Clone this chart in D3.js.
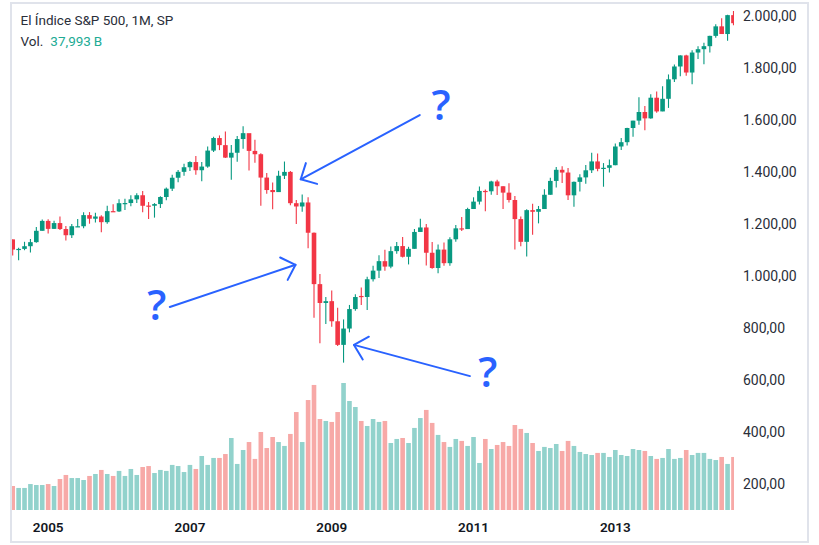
<!DOCTYPE html>
<html><head><meta charset="utf-8">
<script src="https://cdn.jsdelivr.net/npm/d3@7"></script>
<style>
html,body{margin:0;padding:0;background:#fff;}
svg{display:block;font-family:Roboto,"Noto Sans",sans-serif;}
</style></head><body>
<svg id="chart" width="819" height="545"></svg>
<script>
// ---------------- DATA ----------------
const months = [
"2004-07","2004-08","2004-09","2004-10","2004-11","2004-12",
"2005-01","2005-02","2005-03","2005-04","2005-05","2005-06","2005-07","2005-08","2005-09","2005-10","2005-11","2005-12",
"2006-01","2006-02","2006-03","2006-04","2006-05","2006-06","2006-07","2006-08","2006-09","2006-10","2006-11","2006-12",
"2007-01","2007-02","2007-03","2007-04","2007-05","2007-06","2007-07","2007-08","2007-09","2007-10","2007-11","2007-12",
"2008-01","2008-02","2008-03","2008-04","2008-05","2008-06","2008-07","2008-08","2008-09","2008-10","2008-11","2008-12",
"2009-01","2009-02","2009-03","2009-04","2009-05","2009-06","2009-07","2009-08","2009-09","2009-10","2009-11","2009-12",
"2010-01","2010-02","2010-03","2010-04","2010-05","2010-06","2010-07","2010-08","2010-09","2010-10","2010-11","2010-12",
"2011-01","2011-02","2011-03","2011-04","2011-05","2011-06","2011-07","2011-08","2011-09","2011-10","2011-11","2011-12",
"2012-01","2012-02","2012-03","2012-04","2012-05","2012-06","2012-07","2012-08","2012-09","2012-10","2012-11","2012-12",
"2013-01","2013-02","2013-03","2013-04","2013-05","2013-06","2013-07","2013-08","2013-09","2013-10","2013-11","2013-12",
"2014-01","2014-02","2014-03","2014-04","2014-05","2014-06","2014-07","2014-08","2014-09"];

const opens = [
1140.84,1101.72,1104.24,1114.58,1130.20,1173.82,
1211.92,1181.27,1203.60,1180.59,1156.85,1191.00,1191.33,1234.18,1220.33,1228.81,1207.01,1249.48,
1248.29,1280.08,1280.66,1294.83,1310.61,1270.90,1270.20,1276.66,1303.82,1335.85,1377.94,1400.63,
1418.30,1438.24,1406.82,1420.86,1482.37,1530.62,1503.35,1455.27,1473.99,1526.75,1549.38,1481.14,
1468.36,1378.55,1330.63,1322.70,1385.59,1400.38,1280.00,1267.38,1282.83,1166.36,968.75,896.24,
903.25,825.88,735.09,797.87,872.81,923.26,919.32,987.48,1020.62,1057.08,1036.19,1095.63,
1115.10,1073.87,1104.49,1169.43,1186.69,1089.41,1030.71,1101.60,1049.33,1141.20,1183.26,1180.55,
1257.64,1286.12,1327.22,1325.83,1363.61,1345.20,1320.64,1292.28,1218.89,1131.42,1253.30,1246.96,
1257.60,1312.41,1365.68,1408.47,1397.91,1310.33,1362.16,1379.32,1406.58,1440.67,1412.16,1416.18,
1426.19,1498.11,1514.68,1569.19,1597.57,1630.74,1606.28,1685.73,1632.97,1681.55,1756.54,1805.81,
1848.36,1782.59,1859.45,1872.34,1883.95,1923.57,1960.23,1930.67,2003.37];

const highs = [
1140.84,1108.60,1131.54,1142.05,1188.46,1217.33,
1217.80,1212.44,1229.11,1191.88,1199.56,1219.59,1245.15,1245.86,1243.13,1233.34,1270.64,1275.80,
1294.90,1297.57,1310.88,1318.16,1326.70,1284.89,1280.42,1306.74,1340.28,1389.45,1407.89,1431.81,
1441.61,1461.57,1438.89,1498.02,1535.56,1540.56,1555.90,1503.89,1538.74,1576.09,1545.79,1523.57,
1471.77,1396.02,1359.68,1404.57,1440.24,1404.05,1292.17,1313.15,1303.04,1167.03,1007.51,918.85,
943.85,877.86,832.98,888.70,930.17,956.23,996.68,1039.47,1080.15,1101.36,1113.69,1130.38,
1150.45,1112.42,1180.69,1219.80,1200.26,1131.23,1120.95,1129.24,1148.90,1196.14,1227.08,1262.60,
1302.67,1344.07,1332.28,1366.34,1370.58,1345.20,1356.48,1307.38,1229.29,1256.55,1277.55,1269.37,
1333.47,1378.04,1419.15,1422.38,1415.32,1363.46,1391.74,1426.68,1474.51,1470.96,1434.27,1448.00,
1509.94,1530.94,1570.28,1597.57,1687.18,1654.19,1698.78,1709.67,1729.86,1775.22,1813.55,1849.44,
1850.84,1867.92,1883.97,1897.28,1924.03,1968.17,1991.39,2005.04,2019.26];

const lows = [
1078.78,1060.72,1099.18,1090.19,1127.60,1173.76,
1163.75,1180.95,1176.92,1136.15,1146.18,1188.30,1183.55,1201.07,1205.35,1168.20,1201.07,1246.59,
1245.74,1253.61,1268.42,1280.74,1245.34,1219.29,1224.54,1261.30,1290.93,1327.10,1360.98,1385.93,
1403.97,1389.42,1363.98,1416.37,1476.70,1484.18,1454.25,1370.60,1439.29,1489.56,1406.10,1435.65,
1270.05,1316.75,1256.98,1324.35,1373.07,1272.00,1200.44,1247.45,1106.42,839.80,741.02,815.69,
804.47,730.33,666.79,783.32,866.10,888.86,869.32,978.51,991.97,1020.18,1029.38,1085.89,
1071.59,1044.50,1105.24,1170.69,1040.78,1028.33,1010.91,1039.70,1039.70,1131.87,1173.00,1186.60,
1257.62,1275.10,1249.05,1312.47,1311.80,1258.07,1282.86,1101.54,1114.22,1074.77,1158.66,1202.37,
1258.86,1312.41,1340.03,1357.38,1291.98,1266.74,1325.41,1354.65,1396.56,1403.28,1343.35,1398.11,
1426.19,1485.01,1501.48,1536.03,1581.28,1560.33,1604.57,1627.47,1633.41,1646.47,1746.20,1767.99,
1770.45,1737.92,1834.44,1814.36,1859.79,1915.98,1930.67,1904.78,1964.04];

const closes = [
1101.72,1104.24,1114.58,1130.20,1173.82,1211.92,
1181.27,1203.60,1180.59,1156.85,1191.50,1191.33,1234.18,1220.33,1228.81,1207.01,1249.48,1248.29,
1280.08,1280.66,1294.83,1310.61,1270.09,1270.20,1276.66,1303.82,1335.85,1377.94,1400.63,1418.30,
1438.24,1406.82,1420.86,1482.37,1530.62,1503.35,1455.27,1473.99,1526.75,1549.38,1481.14,1468.36,
1378.55,1330.63,1322.70,1385.59,1400.38,1280.00,1267.38,1282.83,1166.36,968.75,896.24,903.25,
825.88,735.09,797.87,872.81,919.14,919.32,987.48,1020.62,1057.08,1036.19,1095.63,1115.10,
1073.87,1104.49,1169.43,1186.69,1089.41,1030.71,1101.60,1049.33,1141.20,1183.26,1180.55,1257.64,
1286.12,1327.22,1325.83,1363.61,1345.20,1320.64,1292.28,1218.89,1131.42,1253.30,1246.96,1257.60,
1312.41,1365.68,1408.47,1397.91,1310.33,1362.16,1379.32,1406.58,1440.67,1412.16,1416.18,1426.19,
1498.11,1514.68,1569.19,1597.57,1630.74,1606.28,1685.73,1632.97,1681.55,1756.54,1805.81,1848.36,
1782.59,1859.45,1872.34,1883.95,1923.57,1960.23,1930.67,2003.37,1972.29];

// monthly volume, billions
const volumes = [
17.2,15.8,15.8,18.6,17.9,17.9,
18.6,17.2,22.2,25.1,22.9,22.9,21.5,24.4,25.8,28.7,25.8,24.4,
28.0,24.4,29.4,25.1,30.8,31.5,26.5,28.7,28.0,32.3,31.5,27.2,
32.3,29.4,38.7,32.3,37.3,37.3,40.1,51.6,33.0,43.0,48.7,36.6,
55.9,44.4,52.3,48.7,45.9,54.5,70.2,48.7,78.8,89.6,65.2,63.8,
63.1,70.2,91.0,78.1,73.8,63.8,60.2,65.2,63.1,63.8,48.0,50.9,
51.6,48.0,58.8,65.9,71.7,62.4,53.8,48.7,45.2,50.9,49.5,45.9,
52.3,33.7,50.9,43.7,46.6,48.7,45.9,60.9,58.1,55.2,48.0,42.3,
45.2,44.4,47.3,42.3,49.5,45.9,41.6,40.1,39.4,40.9,40.9,38.0,
43.0,39.4,38.7,43.7,43.0,42.3,38.7,36.6,37.3,43.7,36.6,37.3,
43.0,39.4,40.9,40.9,36.6,35.8,38.0,33.0,37.993];

const yearTicks  = ["2005-01","2007-01","2009-01","2011-01","2013-01"];
const yearLabels = ["2005","2007","2009","2011","2013"];
const priceTicks = [200,400,600,800,1000,1200,1400,1600,1800,2000];
const titleText = "El Índice S&P 500, 1M, SP";
const volText = "Vol.";
const volValueText = "37,993\u2009B";

// annotations in data space: [month index, price]
const arrowTails = [[68.9,1619],[26.6,881],[77.4,615]];
const arrowTips  = [[48.75,1372],[47.87,1043],[57.77,735]];
const qMarks     = [[72.5,1662],[24.4,896],[80.4,638]];

// ---------------- LAYOUT ----------------
const W = 819, H = 545;
const plotL = 12, plotR = 734, plotT = 3, volBase = 510;
const step = 5.908, firstCenter = 12.7;
const svg = d3.select("#chart");

const x = d3.scaleBand().domain(months)
  .range([firstCenter - step/2, firstCenter - step/2 + step*months.length])
  .paddingInner(0.22).paddingOuter(0.11);
const xi = d3.scaleLinear().domain([0, months.length-1])
  .range([x(months[0]) + x.bandwidth()/2, x(months[months.length-1]) + x.bandwidth()/2]);
const y = d3.scaleLinear().domain([200, 2000]).range([484, 16]);
const yv = d3.scaleLinear().domain([0, 91]).range([volBase, 383]);

const fmt = d3.formatLocale({decimal:",", thousands:".", grouping:[3], currency:["",""]}).format(",.2f");

const up = "#089981", dn = "#f23645";
const volUp = "#92d2cc", volDn = "#f7a9a7";

svg.append("rect").attr("width",W).attr("height",H).attr("fill","#fff");

svg.append("defs").append("clipPath").attr("id","clip")
  .append("rect").attr("x",plotL).attr("y",plotT).attr("width",plotR-plotL).attr("height",volBase-plotT+1);

const data = months.map((m,i)=>({m, o:opens[i], h:highs[i], l:lows[i], c:closes[i], v:volumes[i]}));

const plot = svg.append("g").attr("clip-path","url(#clip)");

// volume
plot.append("g").selectAll("rect").data(data).join("rect")
  .attr("x", d=>x(d.m)).attr("width", x.bandwidth())
  .attr("y", d=>yv(d.v)).attr("height", d=>volBase - yv(d.v))
  .attr("fill", d=> d.c>=d.o ? volUp : volDn);

// wicks
plot.append("g").selectAll("line").data(data).join("line")
  .attr("x1", d=>x(d.m)+x.bandwidth()/2).attr("x2", d=>x(d.m)+x.bandwidth()/2)
  .attr("y1", d=>y(d.h)).attr("y2", d=>y(d.l))
  .attr("stroke", d=> d.c>=d.o ? up : dn).attr("stroke-width",1.1);

// bodies
plot.append("g").selectAll("rect").data(data).join("rect")
  .attr("x", d=>x(d.m)).attr("width", x.bandwidth())
  .attr("y", d=>y(Math.max(d.o,d.c)))
  .attr("height", d=>Math.max(1.2, Math.abs(y(d.o)-y(d.c))))
  .attr("fill", d=> d.c>=d.o ? up : dn);

// price axis
const ya = svg.append("g").attr("transform","translate(743,0)")
  .call(d3.axisRight(y).tickValues(priceTicks).tickSize(0).tickPadding(0).tickFormat(fmt));
ya.select(".domain").remove();
ya.selectAll("text").attr("font-size",14).attr("fill","#2a2e39")
  .attr("font-family","Roboto,sans-serif").attr("text-anchor","start");

// time axis
const xa = svg.append("g").attr("transform","translate(0,527)")
  .call(d3.axisBottom(x).tickValues(yearTicks).tickSize(0).tickPadding(0)
     .tickFormat(d=>yearLabels[yearTicks.indexOf(d)]));
xa.select(".domain").remove();
xa.selectAll("text").attr("dy","0.35em").attr("y",0).attr("font-size",13.5)
  .attr("font-weight",600).attr("fill","#131722").attr("font-family","Roboto,sans-serif");

// frame
svg.append("rect").attr("x",11).attr("y",3).attr("width",797).attr("height",539)
  .attr("fill","none").attr("stroke","#e0e3eb").attr("stroke-width",2);

// legend
svg.append("text").attr("x",20.5).attr("y",25).attr("font-size",13.5).attr("fill","#2a2e39").text(titleText);
const vt = svg.append("text").attr("x",20.5).attr("y",46).attr("font-size",13.5);
vt.append("tspan").attr("fill","#2a2e39").text(volText);
vt.append("tspan").attr("dx",7).attr("fill","#22ab94").text(volValueText);

// annotations
const blue = "#2962ff";
const ann = svg.append("g");
arrowTails.forEach((t,i)=>{
  const x1 = xi(t[0]), y1 = y(t[1]), x2 = xi(arrowTips[i][0]), y2 = y(arrowTips[i][1]);
  ann.append("line").attr("x1",x1).attr("y1",y1).attr("x2",x2).attr("y2",y2)
    .attr("stroke",blue).attr("stroke-width",2).attr("stroke-linecap","round");
  const ang = Math.atan2(y1-y2, x1-x2), len = 17, spread = 44*Math.PI/180;
  const p = d3.path();
  p.moveTo(x2+len*Math.cos(ang-spread), y2+len*Math.sin(ang-spread));
  p.lineTo(x2,y2);
  p.lineTo(x2+len*Math.cos(ang+spread), y2+len*Math.sin(ang+spread));
  ann.append("path").attr("d",p.toString()).attr("fill","none").attr("stroke",blue)
    .attr("stroke-width",2).attr("stroke-linecap","round").attr("stroke-linejoin","round");
});
qMarks.forEach(q=>{
  ann.append("text").attr("x",xi(q[0])).attr("y",y(q[1])).attr("text-anchor","middle")
    .attr("dominant-baseline","central").attr("font-size",42).attr("font-weight",600)
    .attr("fill",blue).attr("font-family","'Open Sans',sans-serif").text("?");
});
</script>
</body></html>
